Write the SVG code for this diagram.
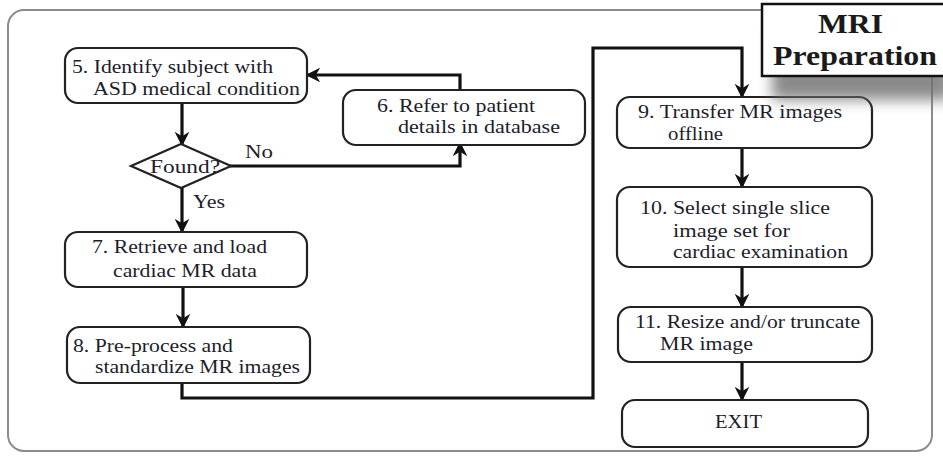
<svg xmlns="http://www.w3.org/2000/svg" width="943" height="456" viewBox="0 0 943 456">
  <style>
    .node { fill: #ffffff; stroke: #222222; stroke-width: 2.2; }
    .lbl { font-family: "Liberation Serif", "Times New Roman", serif; font-size: 18px; fill: #1d1d2b; }
    .edge { fill: none; stroke: #111111; stroke-width: 3.2; }
    .title { font-family: "Liberation Serif", "Times New Roman", serif; font-size: 27px; font-weight: bold; fill: #1a1a1a; }
  </style>
  <defs>
    <marker id="arrow" viewBox="0 0 10 10" refX="9" refY="5" markerWidth="4.6" markerHeight="4.6" markerUnits="strokeWidth" orient="auto">
      <path d="M0,0 L10,5 L0,10 L3,5 z" fill="#111111"/>
    </marker>
    <filter id="shadow" x="-30%" y="-30%" width="160%" height="160%">
      <feGaussianBlur stdDeviation="7"/>
    </filter>
  </defs>

  <rect width="943" height="456" fill="#ffffff"/>

  <!-- outer frame -->
  <rect x="8" y="10" width="924" height="441" rx="16" fill="none" stroke="#8c8c8c" stroke-width="2"/>

  <!-- connectors -->
  <g id="connectors">
    <path class="edge" d="M182,103 V145" marker-end="url(#arrow)"/>
    <path class="edge" d="M230,166 H460 V143" marker-end="url(#arrow)"/>
    <path class="edge" d="M460,90 V75 H307" marker-end="url(#arrow)"/>
    <path class="edge" d="M182,188 V232" marker-end="url(#arrow)"/>
    <path class="edge" d="M183,287 V327" marker-end="url(#arrow)"/>
    <path class="edge" d="M182,383 V398 H593 V48 H742 V97" marker-end="url(#arrow)"/>
    <path class="edge" d="M742,148 V187" marker-end="url(#arrow)"/>
    <path class="edge" d="M742,267 V307" marker-end="url(#arrow)"/>
    <path class="edge" d="M742,362 V400" marker-end="url(#arrow)"/>
  </g>

  <g id="n5">
    <rect class="node" x="65" y="48" width="242" height="55" rx="13"/>
    <text class="lbl" x="72" y="73" textLength="201" lengthAdjust="spacingAndGlyphs">5. Identify subject with</text>
    <text class="lbl" x="93" y="95" textLength="207" lengthAdjust="spacingAndGlyphs">ASD medical condition</text>
  </g>

  <g id="found">
    <polygon class="node" points="181,144 231,166 181,188 131,166"/>
    <text class="lbl" x="150" y="173" textLength="70" lengthAdjust="spacingAndGlyphs">Found?</text>
    <text class="lbl" x="245" y="158" textLength="28" lengthAdjust="spacingAndGlyphs">No</text>
    <text class="lbl" x="193" y="208" textLength="32" lengthAdjust="spacingAndGlyphs">Yes</text>
  </g>

  <g id="n6">
    <rect class="node" x="343" y="90" width="242" height="55" rx="13"/>
    <text class="lbl" x="377" y="112" textLength="158" lengthAdjust="spacingAndGlyphs">6. Refer to patient</text>
    <text class="lbl" x="398" y="133" textLength="162" lengthAdjust="spacingAndGlyphs">details in database</text>
  </g>

  <g id="n7">
    <rect class="node" x="65" y="232" width="242" height="55" rx="13"/>
    <text class="lbl" x="92" y="253" textLength="175" lengthAdjust="spacingAndGlyphs">7. Retrieve and load</text>
    <text class="lbl" x="113" y="277" textLength="144" lengthAdjust="spacingAndGlyphs">cardiac MR data</text>
  </g>

  <g id="n8">
    <rect class="node" x="67" y="327" width="243" height="56" rx="13"/>
    <text class="lbl" x="73" y="352" textLength="160" lengthAdjust="spacingAndGlyphs">8. Pre-process and</text>
    <text class="lbl" x="95" y="373" textLength="205" lengthAdjust="spacingAndGlyphs">standardize MR images</text>
  </g>

  <g id="n9">
    <rect class="node" x="617" y="97" width="255" height="51" rx="13"/>
    <text class="lbl" x="638" y="118" textLength="204" lengthAdjust="spacingAndGlyphs">9. Transfer MR images</text>
    <text class="lbl" x="668" y="140" textLength="55" lengthAdjust="spacingAndGlyphs">offline</text>
  </g>

  <g id="n10">
    <rect class="node" x="617" y="187" width="255" height="80" rx="13"/>
    <text class="lbl" x="640" y="214" textLength="190" lengthAdjust="spacingAndGlyphs">10. Select single slice</text>
    <text class="lbl" x="673" y="237" textLength="117" lengthAdjust="spacingAndGlyphs">image set for</text>
    <text class="lbl" x="673" y="258" textLength="175" lengthAdjust="spacingAndGlyphs">cardiac examination</text>
  </g>

  <g id="n11">
    <rect class="node" x="618" y="307" width="254" height="55" rx="13"/>
    <text class="lbl" x="635" y="328" textLength="225" lengthAdjust="spacingAndGlyphs">11. Resize and/or truncate</text>
    <text class="lbl" x="660" y="350" textLength="93" lengthAdjust="spacingAndGlyphs">MR image</text>
  </g>

  <g id="exit">
    <rect class="node" x="622" y="400" width="246" height="47" rx="13"/>
    <text class="lbl" x="715" y="428" textLength="47" lengthAdjust="spacingAndGlyphs">EXIT</text>
  </g>

  <!-- title badge -->
  <g id="title">
    <rect x="772" y="30" width="180" height="70" fill="#6e6e6e" opacity="0.8" filter="url(#shadow)"/>
    <rect x="762" y="4" width="190" height="72" fill="#ffffff" stroke="#111111" stroke-width="2.5"/>
    <text class="title" x="818" y="33" textLength="65" lengthAdjust="spacingAndGlyphs">MRI</text>
    <text class="title" x="773" y="65" textLength="164" lengthAdjust="spacingAndGlyphs">Preparation</text>
  </g>
</svg>
